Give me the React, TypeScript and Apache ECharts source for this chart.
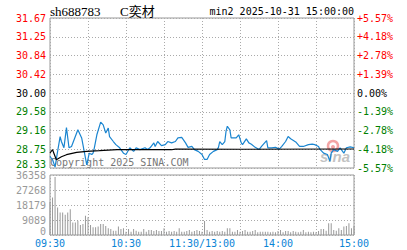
import React, { useEffect, useRef } from "react";
import * as echarts from "echarts";

const stockCode = "sh688783";
const stockName = "C奕材";
const stamp = "min2 2025-10-31 15:00:00";
const priceMin = 28.33;
const priceMax = 31.67;
const priceStep = 0.4175;
const priceTicks = ["28.33", "28.75", "29.16", "29.58", "30.00", "30.42", "30.84", "31.25", "31.67"];
const pctTicks = ["-5.57%", "-4.18%", "-2.78%", "-1.39%", "0.00%", "+1.39%", "+2.78%", "+4.18%", "+5.57%"];
const volMax = 36358;
const volTicks = ["0", "9089", "18179", "27268", "36358"];
const timeLabels = ["09:30", "10:30", "11:30/13:00", "14:00", "15:00"];

const priceMinutes = [0, 1, 2, 4, 6, 8, 9, 11, 13, 15, 17, 22, 25, 28, 29, 31, 33, 34, 35, 37, 40, 42, 44, 46, 47, 50, 52, 55, 58, 60, 63, 66, 68, 71, 75, 77, 79, 82, 83, 85, 88, 91, 93, 96, 99, 101, 104, 107, 109, 112, 114, 117, 120, 122, 124, 126, 129, 132, 133, 134, 136, 138, 139, 140, 142, 143, 147, 149, 151, 152, 155, 157, 159, 162, 165, 167, 171, 172, 175, 178, 181, 183, 186, 188, 190, 194, 197, 200, 204, 207, 209, 212, 213, 216, 219, 221, 222, 224, 227, 229, 232, 234, 237, 240];
const prices = [28.59, 28.55, 28.52, 28.35, 28.70, 29.03, 28.92, 28.78, 29.23, 28.78, 28.81, 29.18, 29.00, 28.55, 28.40, 28.66, 28.63, 28.66, 28.78, 29.07, 29.35, 29.29, 29.11, 29.22, 29.03, 28.92, 28.85, 28.78, 28.66, 28.63, 28.78, 28.70, 28.78, 28.74, 28.78, 28.74, 28.78, 28.89, 28.81, 28.92, 28.83, 28.85, 28.92, 28.89, 28.92, 29.00, 29.01, 28.89, 28.79, 28.81, 28.74, 28.70, 28.63, 28.52, 28.52, 28.63, 28.70, 28.74, 28.79, 28.92, 28.85, 28.92, 29.15, 29.26, 29.18, 29.00, 29.00, 29.07, 28.89, 28.85, 28.98, 28.89, 28.86, 28.79, 28.74, 28.81, 28.94, 28.78, 28.78, 28.79, 28.75, 28.81, 28.92, 29.03, 28.98, 28.91, 28.81, 28.81, 28.85, 28.86, 28.85, 28.81, 28.75, 28.66, 28.63, 28.48, 28.66, 28.74, 28.70, 28.78, 28.66, 28.78, 28.80, 28.78];

const avgMinutes = [0, 2, 5, 9, 13, 21, 29, 39, 53, 96, 99, 150, 240];
const avgPrices = [28.664, 28.737, 28.515, 28.58, 28.626, 28.677, 28.70, 28.715, 28.737, 28.737, 28.75, 28.748, 28.753];

const volumes = [20000, 22700, 35100, 16600, 13600, 13600, 12200, 13600, 15600, 7500, 7500, 8700, 6100, 6700, 11600, 10800, 6100, 4700, 4700, 5100, 6700, 6700, 5500, 4100, 3600, 2600, 2600, 5100, 3600, 4100, 2000, 3600, 2000, 3600, 2600, 2000, 2000, 3600, 2000, 3000, 3050, 2440, 3050, 2440, 2440, 4060, 2030, 2440, 2030, 2440, 2030, 4060, 2030, 2030, 2440, 3050, 2030, 2440, 3050, 2440, 2030, 8530, 3050, 2030, 2440, 2030, 2440, 2030, 2440, 2030, 4060, 4060, 2030, 2030, 3050, 2030, 2440, 3050, 2030, 2030, 2440, 3050, 1620, 2030, 2030, 2030, 2030, 1620, 2030, 1620, 2440, 3050, 1620, 2440, 2440, 1620, 2440, 2030, 1620, 2030, 3050, 1620, 2030, 1620, 2030, 1620, 2440, 3650, 3650, 2500, 7100, 7100, 3050, 2500, 4060, 3050, 5100, 5500, 7100, 4060, 5500];

const MONO = "DejaVu Sans Mono";

export default function App() {
  const ref = useRef<HTMLDivElement>(null);
  useEffect(() => {
    if (!ref.current) return;
    const chart = echarts.init(ref.current, null, { renderer: "svg" });
    const dotted = { color: "#aaaaaa", type: [1, 2] as any, width: 1 };
    const labelBase = { fontFamily: MONO, fontSize: 10 };
    const tickIdx = (v: number) => Math.round((v - priceMin) / priceStep);
    chart.setOption({
      animation: false,
      backgroundColor: "#ffffff",
      grid: [
        { left: 50, top: 18, width: 304, height: 150, show: true, borderColor: "#999999", borderWidth: 1 },
        { left: 50, top: 175, width: 304, height: 60, show: true, borderColor: "#999999", borderWidth: 1 },
      ],
      xAxis: [
        {
          type: "value", gridIndex: 0, min: 0, max: 240, interval: 30,
          axisLine: { show: false }, axisTick: { show: false }, axisLabel: { show: false },
          splitLine: { show: true, lineStyle: dotted },
        },
        {
          type: "value", gridIndex: 1, min: 0, max: 240, interval: 30,
          axisLine: { show: false }, axisTick: { show: false },
          axisLabel: {
            ...labelBase, color: "#0a84d6", margin: 3,
            formatter: (v: number) => (v % 60 === 0 ? timeLabels[v / 60] : ""),
          },
          splitLine: { show: true, lineStyle: dotted },
        },
      ],
      yAxis: [
        {
          type: "value", gridIndex: 0, min: priceMin, max: priceMax, interval: priceStep,
          axisLine: { show: false }, axisTick: { show: false },
          splitLine: { show: true, lineStyle: dotted },
          axisLabel: {
            ...labelBase, margin: 4,
            formatter: (v: number) => {
              const i = tickIdx(v);
              const t = priceTicks[i];
              if (i === 0) return `{gb|${t}}`;
              return i > 4 ? `{r|${t}}` : i === 4 ? `{k|${t}}` : `{g|${t}}`;
            },
            rich: {
              r: { ...labelBase, color: "#ff0000" },
              k: { ...labelBase, color: "#000000" },
              g: { ...labelBase, color: "#008000" },
              gb: { ...labelBase, color: "#008000", padding: [0, 0, 8, 0] },
            },
          },
        },
        {
          type: "value", gridIndex: 0, position: "right", min: priceMin, max: priceMax, interval: priceStep,
          axisLine: { show: false }, axisTick: { show: false }, splitLine: { show: false },
          axisLabel: {
            ...labelBase, margin: 3,
            formatter: (v: number) => {
              const i = tickIdx(v);
              const t = pctTicks[i];
              return i > 4 ? `{r|${t}}` : i === 4 ? `{k|${t}}` : `{g|${t}}`;
            },
            rich: {
              r: { ...labelBase, color: "#ff0000" },
              k: { ...labelBase, color: "#000000" },
              g: { ...labelBase, color: "#008000" },
            },
          },
        },
        {
          type: "value", gridIndex: 1, min: 0, max: volMax, interval: volMax / 4,
          axisLine: { show: false }, axisTick: { show: false },
          splitLine: { show: true, lineStyle: dotted },
          axisLabel: {
            ...labelBase, margin: 4,
            formatter: (v: number) => {
              const i = Math.round(v / (volMax / 4));
              return i === 0 ? `{b|${volTicks[i]}}` : `{n|${volTicks[i]}}`;
            },
            rich: {
              n: { ...labelBase, color: "#999999" },
              b: { ...labelBase, color: "#999999", padding: [0, 0, 8, 0] },
            },
          },
        },
      ],
      series: [
        {
          type: "line", xAxisIndex: 0, yAxisIndex: 0, symbol: "none",
          data: priceMinutes.map((m, i) => [m, prices[i]]),
          lineStyle: { color: "#1a85d0", width: 1.2 },
        },
        {
          type: "line", xAxisIndex: 0, yAxisIndex: 0, symbol: "none",
          data: avgMinutes.map((m, i) => [m, avgPrices[i]]),
          lineStyle: { color: "#000000", width: 1.2 },
        },
        {
          type: "bar", xAxisIndex: 1, yAxisIndex: 2, barWidth: 1,
          data: volumes.map((v, i) => [i * 2, v]),
          itemStyle: { color: "#999999" },
        },
      ],
      graphic: [
        { type: "text", left: 50, top: 5, style: { text: stockCode, font: "13px 'Liberation Serif'", fill: "#000" } },
        { type: "text", left: 120, top: 5, style: { text: stockName, font: "13px 'Liberation Serif', 'Noto Sans CJK SC'", fill: "#000" } },
        { type: "text", right: 53, top: 6, style: { text: stamp, font: `10px '${MONO}'`, fill: "#000" } },
        { type: "text", left: 50, top: 157, style: { text: "Copyright 2025 SINA.COM", font: `10px '${MONO}'`, fill: "#777777" } },
        { type: "circle", shape: { cx: 333, cy: 146, r: 5 }, style: { fill: "none", stroke: "#f3a5a5", lineWidth: 2.5 } },
        { type: "circle", shape: { cx: 333, cy: 147, r: 2 }, style: { fill: "#f3a5a5" } },
        { type: "text", left: 320, top: 149, style: { text: "sina", font: "italic bold 15px 'Liberation Sans'", fill: "#bbbbbb", opacity: 0.9 } },
      ],
    });
    return () => chart.dispose();
  }, []);
  return <div ref={ref} style={{ position: "fixed", left: 0, top: 0, width: 407, height: 250 }} />;
}
